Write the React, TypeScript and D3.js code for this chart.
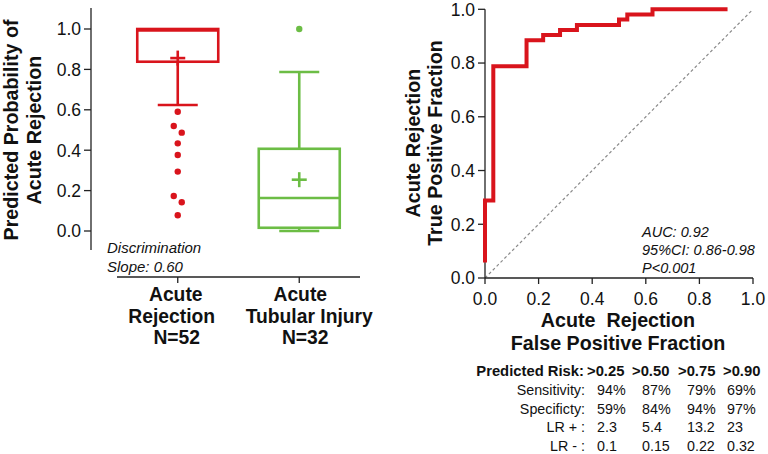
import React from 'react';
import * as d3 from 'd3';

// ---------- Data: box plot (left) ----------
const groups = ['Acute Rejection', 'Acute Tubular Injury'];
const groupLabelLines = [
  ['Acute', 'Rejection', 'N=52'],
  ['Acute', 'Tubular Injury', 'N=32'],
];
const boxQ1 = [0.838, 0.016];
const boxMedian = [0.993, 0.163];
const boxQ3 = [1.0, 0.407];
const boxMean = [0.856, 0.254];
const whiskerLow = [0.624, 0.0];
const whiskerHigh = [1.0, 0.787];
const outliersAR = [0.59, 0.52, 0.487, 0.434, 0.376, 0.294, 0.173, 0.142, 0.078];
const outliersATI = [1.0];
const probTicks = [0, 0.2, 0.4, 0.6, 0.8, 1.0];

// ---------- Data: ROC (right) ----------
const rocFPF = [0, 0, 0.031, 0.155, 0.217, 0.28, 0.343, 0.5, 0.531, 0.625, 0.905];
const rocTPF = [0.058, 0.288, 0.788, 0.885, 0.904, 0.923, 0.942, 0.962, 0.981, 1.0, 1.0];
const rocTicks = [0, 0.2, 0.4, 0.6, 0.8, 1.0];

// ---------- Data: table ----------
const riskThresholds = ['>0.25', '>0.50', '>0.75', '>0.90'];
const rowLabels = ['Sensitivity:', 'Specificty:', 'LR + :', 'LR - :'];
const sensitivity = ['94%', '87%', '79%', '69%'];
const specificity = ['59%', '84%', '94%', '97%'];
const lrPlus = ['2.3', '5.4', '13.2', '23'];
const lrMinus = ['0.1', '0.15', '0.22', '0.32'];

const RED = '#d9141c';
const GREEN = '#6cbd45';
const groupColors = [RED, GREEN];
const FONT = '"Liberation Sans", Arial, Helvetica, sans-serif';
const fmt = d3.format('.1f');
const TITLE = 19.7;
const TICK = 17.5;

export default function App() {
  // Left panel scales
  const yL = d3.scaleLinear().domain([0, 1]).range([231, 29]);
  const xL = d3.scalePoint<string>().domain(groups).range([117, 360]).padding(0.5);
  const boxHalf = 40.5;
  const capHalf = 20;
  const plusHalf = 7.5;
  const outliers = [outliersAR, outliersATI];

  // Right panel scales
  const xR = d3.scaleLinear().domain([0, 1]).range([485, 753]);
  const yR = d3.scaleLinear().domain([0, 1]).range([278, 9.3]);
  const rocPts = rocFPF.map((f, i) => [f, rocTPF[i]] as [number, number]);
  const rocLine = d3
    .line<[number, number]>()
    .x((d) => xR(d[0]))
    .y((d) => yR(d[1]))
    .curve(d3.curveStepAfter);

  const tableRows = [sensitivity, specificity, lrPlus, lrMinus];
  const headerX = [587, 632, 678, 723];
  const valueX = [597, 642, 687, 727];
  const rowY = [395, 413.5, 432, 450.5];
  const catDx = [[-2, -6, -1], [1, 10, 6]];

  return (
    <svg
      width={768}
      height={454}
      style={{ position: 'absolute', left: 0, top: 0, background: '#fff' }}
      fontFamily={FONT}
    >
      <rect x={0} y={0} width={768} height={454} fill="#fff" />

      {/* ===== LEFT: box plot ===== */}
      <line x1={91} x2={91} y1={8} y2={250} stroke="#222" strokeWidth={1.3} />
      {probTicks.map((t) => (
        <g key={'lt' + t}>
          <line x1={84} x2={91} y1={yL(t)} y2={yL(t)} stroke="#222" strokeWidth={1.3} />
          <text x={81} y={yL(t)} dy="0.36em" textAnchor="end" fontSize={TICK} fill="#111">
            {fmt(t)}
          </text>
        </g>
      ))}
      <text
        transform="translate(17.5,130) rotate(-90)"
        textAnchor="middle"
        fontSize={TITLE}
        fontWeight="bold"
        fill="#111"
      >
        Predicted Probability of
      </text>
      <text
        transform="translate(40.5,130) rotate(-90)"
        textAnchor="middle"
        fontSize={TITLE}
        fontWeight="bold"
        fill="#111"
      >
        Acute Rejection
      </text>

      <line x1={117} x2={360} y1={277} y2={277} stroke="#222" strokeWidth={1.3} />
      {groups.map((g, i) => (
        <g key={'cat' + g}>
          <line x1={xL(g)} x2={xL(g)} y1={277} y2={283} stroke="#222" strokeWidth={1.3} />
          {groupLabelLines[i].map((ln, j) => (
            <text
              key={ln}
              x={(xL(g) as number) + catDx[i][j]}
              y={301 + j * 21.5}
              textAnchor="middle"
              fontSize={19.3}
              fontWeight="bold"
              fill="#111"
            >
              {ln}
            </text>
          ))}
        </g>
      ))}

      {groups.map((g, i) => {
        const cx = xL(g) as number;
        const c = groupColors[i];
        let prev: number | null = null;
        return (
          <g key={'box' + g} stroke={c} fill="none" strokeWidth={2.6}>
            {whiskerLow[i] < boxQ1[i] && (
              <>
                <line x1={cx} x2={cx} y1={yL(boxQ1[i])} y2={yL(whiskerLow[i])} />
                <line x1={cx - capHalf} x2={cx + capHalf} y1={yL(whiskerLow[i])} y2={yL(whiskerLow[i])} />
              </>
            )}
            {whiskerHigh[i] > boxQ3[i] && (
              <>
                <line x1={cx} x2={cx} y1={yL(boxQ3[i])} y2={yL(whiskerHigh[i])} />
                <line x1={cx - capHalf} x2={cx + capHalf} y1={yL(whiskerHigh[i])} y2={yL(whiskerHigh[i])} />
              </>
            )}
            <line x1={cx - plusHalf} x2={cx + plusHalf} y1={yL(boxMean[i])} y2={yL(boxMean[i])} />
            <line x1={cx} x2={cx} y1={yL(boxMean[i]) - plusHalf} y2={yL(boxMean[i]) + plusHalf} />
            <rect
              x={cx - boxHalf}
              y={yL(boxQ3[i])}
              width={boxHalf * 2}
              height={yL(boxQ1[i]) - yL(boxQ3[i])}
              fill="none"
            />
            <line x1={cx - boxHalf} x2={cx + boxHalf} y1={yL(boxMedian[i])} y2={yL(boxMedian[i])} />
            {outliers[i].map((v, k) => {
              let dx = 0;
              if (prev !== null && Math.abs(prev - v) < 0.045) {
                dx = 4;
              } else if (k + 1 < outliers[i].length && Math.abs(outliers[i][k + 1] - v) < 0.045) {
                dx = -4;
              }
              prev = v;
              return <circle key={k} cx={cx + dx} cy={yL(v)} r={3.2} fill={c} stroke="none" />;
            })}
          </g>
        );
      })}

      <text x={107} y={253} fontSize={15} fontStyle="italic" fill="#111">
        Discrimination
      </text>
      <text x={107} y={272} fontSize={15} fontStyle="italic" fill="#111">
        Slope: 0.60
      </text>

      {/* ===== RIGHT: ROC ===== */}
      <line
        x1={xR(0)}
        y1={yR(0)}
        x2={xR(1)}
        y2={yR(1)}
        stroke="#8a8a8a"
        strokeWidth={1.2}
        strokeDasharray="3,2.5"
      />
      <line x1={xR(0)} x2={xR(0)} y1={yR(1)} y2={yR(0)} stroke="#222" strokeWidth={1.3} />
      <line x1={xR(0)} x2={xR(1)} y1={yR(0)} y2={yR(0)} stroke="#222" strokeWidth={1.3} />
      {rocTicks.map((t) => (
        <g key={'rt' + t}>
          <line x1={478} x2={xR(0)} y1={yR(t)} y2={yR(t)} stroke="#222" strokeWidth={1.3} />
          <text x={475} y={yR(t)} dy="0.36em" textAnchor="end" fontSize={TICK} fill="#111">
            {fmt(t)}
          </text>
          <line x1={xR(t)} x2={xR(t)} y1={yR(0)} y2={yR(0) + 6} stroke="#222" strokeWidth={1.3} />
          <text x={xR(t)} y={305} textAnchor="middle" fontSize={TICK} fill="#111">
            {fmt(t)}
          </text>
        </g>
      ))}
      <path d={rocLine(rocPts) || ''} fill="none" stroke={RED} strokeWidth={4} strokeLinejoin="miter" />

      <text
        transform="translate(419.5,143) rotate(-90)"
        textAnchor="middle"
        fontSize={TITLE}
        fontWeight="bold"
        fill="#111"
      >
        Acute Rejection
      </text>
      <text
        transform="translate(441.5,143) rotate(-90)"
        textAnchor="middle"
        fontSize={TITLE}
        fontWeight="bold"
        fill="#111"
      >
        True Positive Fraction
      </text>
      <text x={618} y={327} textAnchor="middle" fontSize={TITLE} fontWeight="bold" fill="#111" xmlSpace="preserve">
        Acute  Rejection
      </text>
      <text x={618} y={349.5} textAnchor="middle" fontSize={TITLE} fontWeight="bold" fill="#111">
        False Positive Fraction
      </text>

      <text x={642} y={237} fontSize={14.5} fontStyle="italic" fill="#111">AUC: 0.92</text>
      <text x={642} y={255} fontSize={14.5} fontStyle="italic" fill="#111">95%CI: 0.86-0.98</text>
      <text x={642} y={273} fontSize={14.5} fontStyle="italic" fill="#111">P&lt;0.001</text>

      {/* ===== Table ===== */}
      <text x={584} y={376} textAnchor="end" fontSize={14.8} fontWeight="bold" fill="#111">
        Predicted Risk:
      </text>
      {riskThresholds.map((t, i) => (
        <text key={t} x={headerX[i]} y={376} fontSize={14.8} fontWeight="bold" fill="#111">
          {t}
        </text>
      ))}
      {rowLabels.map((lab, r) => (
        <g key={lab}>
          <text x={585} y={rowY[r]} textAnchor="end" fontSize={14.3} fill="#111" xmlSpace="preserve">
            {lab}
          </text>
          {tableRows[r].map((v, c) => (
            <text key={c} x={valueX[c]} y={rowY[r]} fontSize={14.3} fill="#111">
              {v}
            </text>
          ))}
        </g>
      ))}
    </svg>
  );
}
